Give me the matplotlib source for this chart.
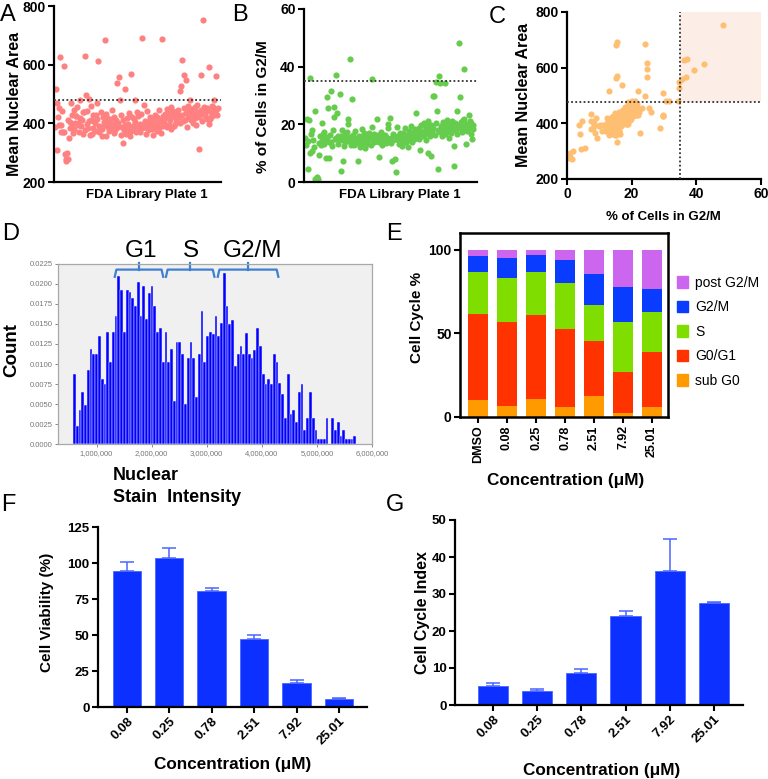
import numpy as np
import matplotlib
matplotlib.use("Agg")
import matplotlib.pyplot as plt
from matplotlib.patches import Patch
from matplotlib.ticker import FuncFormatter, FormatStrFormatter

plt.rcParams['font.family'] = ['Liberation Sans', 'DejaVu Sans']

W, H = 768, 779

# ---- screen data: one value per compound, in plate order ----
nuclear_area = [
    388, 517, 471, 309, 421, 451, 395, 626, 395, 371, 442, 372, 371, 597, 295, 277, 272, 300, 280, 410,
    349, 383, 404, 468, 428, 399, 366, 447, 380, 400, 425, 426, 455, 395, 401, 372, 480, 417, 390, 412,
    440, 365, 437, 631, 378, 497, 399, 441, 385, 482, 407, 360, 459, 410, 362, 384, 430, 408, 374, 402,
    430, 471, 415, 614, 391, 369, 385, 437, 381, 357, 422, 406, 394, 683, 358, 432, 419, 386, 402, 375,
    414, 412, 383, 398, 445, 390, 367, 421, 378, 399, 410, 539, 388, 401, 558, 478, 360, 427, 386, 334,
    412, 376, 517, 394, 365, 418, 371, 398, 436, 385, 357, 569, 374, 421, 392, 380, 414, 403, 480, 369,
    440, 426, 387, 380, 399, 372, 433, 691, 385, 395, 464, 389, 408, 364, 395, 441, 377, 402, 385, 412,
    423, 398, 379, 405, 361, 416, 388, 430, 394, 374, 420, 401, 383, 447, 409, 368, 415, 686, 392, 426,
    404, 431, 418, 395, 389, 450, 422, 396, 437, 412, 455, 380, 425, 441, 430, 390, 398, 434, 416, 420,
    446, 430, 421, 509, 400, 528, 428, 615, 408, 453, 566, 410, 549, 436, 387, 460, 418, 441, 480, 425,
    412, 448, 433, 402, 427, 454, 419, 396, 438, 462, 424, 420, 311, 431, 447, 566, 409, 436, 752, 455,
    425, 429, 443, 414, 451, 445, 591, 398, 415, 440, 422, 458, 455, 427, 480, 435, 446, 562, 430, 452,
]
g2m_pct = [
    15.2, 13.0, 21.7, 4.4, 14.1, 21.5, 10.2, 36.2, 16.8, 10.8, 18.2, 14.6, 12.0, 24.7, 1.0, 0.7, 1.4, 1.8, 0.9, 13.4,
    9.4, 15.8, 12.9, 20.5, 14.3, 16.5, 13.1, 17.4, 14.9, 8.2, 29.6, 15.6, 25.5, 8.4, 13.7, 16.2, 31.7, 14.0, 12.4, 17.9,
    25.9, 22.7, 14.8, 37.0, 15.3, 24.0, 13.2, 16.0, 14.4, 30.5, 15.9, 3.9, 18.0, 7.4, 14.7, 12.6, 16.6, 13.8, 15.1, 17.2,
    22.0, 20.0, 14.2, 42.5, 15.5, 12.8, 28.9, 16.3, 14.6, 13.0, 15.0, 17.6, 13.5, 15.0, 14.9, 7.4, 16.1, 12.2, 15.7, 14.0,
    18.4, 13.6, 15.4, 14.1, 16.9, 11.8, 15.2, 14.5, 13.3, 16.4, 14.8, 17.0, 15.9, 12.7, 35.7, 19.0, 14.3, 16.7, 13.9, 15.5,
    15.1, 14.2, 22.0, 16.3, 8.8, 13.7, 15.8, 14.6, 17.3, 12.9, 15.0, 15.5, 14.0, 16.2, 13.4, 15.7, 14.8, 18.6, 20.0, 14.1,
    22.2, 15.3, 13.6, 7.3, 16.6, 14.4, 15.9, 15.5, 7.9, 3.6, 19.0, 14.7, 16.0, 13.1, 15.4, 17.1, 14.3, 12.5, 15.8, 16.9,
    14.0, 18.8, 15.2, 13.8, 16.4, 15.0, 12.3, 17.7, 14.6, 16.1, 19.5, 15.6, 13.9, 17.4, 16.0, 14.9, 18.3, 24.0, 15.3, 16.8,
    17.5, 14.8, 18.9, 11.1, 16.7, 19.8, 15.9, 17.2, 20.6, 16.3, 18.1, 14.4, 19.3, 17.0, 21.2, 10.0, 18.5, 16.1, 19.9, 9.0,
    17.8, 29.8, 18.6, 29.8, 16.4, 34.7, 20.3, 24.7, 4.5, 18.0, 36.8, 17.3, 34.5, 19.4, 15.8, 20.8, 17.6, 18.9, 34.4, 16.7,
    19.6, 21.5, 17.4, 18.2, 15.2, 20.1, 18.7, 16.9, 21.0, 19.2, 17.9, 12.5, 5.5, 20.4, 18.3, 24.7, 16.5, 19.7, 48.1, 18.6,
    29.6, 20.9, 17.2, 19.1, 21.6, 22.0, 39.2, 18.4, 13.2, 20.2, 17.7, 19.5, 23.2, 18.8, 21.0, 16.8, 20.6, 15.0, 19.9, 18.3,
]
area_cutoff = 478
g2m_cutoff = 35

# ---- nuclear stain histogram (normalised counts per bin) ----
hist_first_center = 0.597e6
hist_bin_width = 0.0504e6
hist_counts = [
    0.0087, 0.0022, 0.0043, 0.0065, 0.0049, 0.0092, 0.0119, 0.0113, 0.0113, 0.0135,
    0.0081, 0.0075, 0.0140, 0.0102, 0.0140, 0.0160, 0.0210, 0.0193, 0.0140, 0.0193,
    0.0190, 0.0182, 0.0172, 0.0203, 0.0160, 0.0198, 0.0156, 0.0189, 0.0198, 0.0172,
    0.0140, 0.0145, 0.0102, 0.0140, 0.0103, 0.0119, 0.0054, 0.0128, 0.0128, 0.0113,
    0.0050, 0.0108, 0.0128, 0.0108, 0.0059, 0.0113, 0.0166, 0.0102, 0.0135, 0.0140,
    0.0138, 0.0160, 0.0135, 0.0151, 0.0214, 0.0172, 0.0150, 0.0155, 0.0097, 0.0113,
    0.0123, 0.0113, 0.0139, 0.0113, 0.0108, 0.0118, 0.0145, 0.0123, 0.0087, 0.0075,
    0.0081, 0.0075, 0.0113, 0.0102, 0.0076, 0.0062, 0.0032, 0.0087, 0.0038, 0.0043,
    0.0027, 0.0065, 0.0075, 0.0018, 0.0032, 0.0065, 0.0032, 0.0018, 0.0006, 0.0006,
    0.0006, 0.0032, 0.0000, 0.0032, 0.0018, 0.0027, 0.0010, 0.0018, 0.0006, 0.0006,
    0.0006, 0.0010,
]
phase_labels = ['G1', 'S', 'G2/M']
phase_ranges = [(1.33e6, 2.21e6), (2.26e6, 3.14e6), (3.20e6, 4.30e6)]

# ---- cell cycle distribution (%) ----
cc_conc = ['DMSO', '0.08', '0.25', '0.78', '2.51', '7.92', '25.01']
sub_g0 = [10.0, 6.4, 10.8, 6.0, 12.6, 2.6, 5.8]
g0_g1 = [51.8, 50.2, 50.2, 46.6, 33.0, 24.6, 33.2]
s_phase = [24.8, 26.2, 25.6, 27.4, 21.2, 29.6, 24.0]
g2_m = [9.6, 12.4, 10.2, 14.0, 18.6, 21.0, 13.8]
post_g2m = [3.8, 4.8, 3.2, 6.0, 14.6, 22.2, 23.2]

# ---- dose response ----
conc = ['0.08', '0.25', '0.78', '2.51', '7.92', '25.01']
viability = [94.4, 103.2, 80.6, 47.5, 16.7, 5.3]
viability_err = [6.3, 7.0, 2.0, 2.5, 2.3, 0.7]
cc_index = [5.1, 3.9, 8.6, 24.1, 36.3, 27.7]
cc_index_err = [0.9, 0.3, 1.0, 1.4, 8.7, 0.2]

fig = plt.figure(figsize=(W / 100, H / 100), dpi=100)


def px_axes(l, t, r, b):
    return fig.add_axes([l / W, 1 - b / H, (r - l) / W, (b - t) / H])


def ftext(x, y, s, **kw):
    kw.setdefault('ha', 'center')
    kw.setdefault('va', 'center')
    fig.text(x / W, 1 - y / H, s, **kw)


def prism_style(ax, fs=10):
    for side in ['top', 'right']:
        ax.spines[side].set_visible(False)
    for side in ['left', 'bottom']:
        ax.spines[side].set_linewidth(1.6)
    ax.tick_params(width=1.5, length=4, labelsize=fs, pad=2)
    for lab in ax.get_yticklabels() + ax.get_xticklabels():
        lab.set_fontweight('bold')


dot = dict(color='#333333', ls=(0, (1, 1.3)), lw=1.3)
idx = np.arange(len(nuclear_area))

# A
axA = px_axes(54, 6, 221, 182)
axA.scatter(idx, nuclear_area, s=20, color='#FF8080', linewidths=0, zorder=2)
axA.axhline(area_cutoff, **dot, zorder=3)
axA.set_xlim(-2, 244)
axA.set_ylim(200, 800)
axA.set_yticks([200, 400, 600, 800])
axA.set_xticks([])
prism_style(axA)
ftext(15, 104, 'Mean Nuclear Area', rotation=90, fontsize=11.5, fontweight='bold')
ftext(147, 195, 'FDA Library Plate 1', fontsize=9.5, fontweight='bold')

# B
axB = px_axes(304, 9, 477, 182)
axB.scatter(idx, g2m_pct, s=20, color='#66CC4D', linewidths=0, zorder=2)
axB.axhline(g2m_cutoff, **dot, zorder=3)
axB.set_xlim(-2, 244)
axB.set_ylim(0, 60)
axB.set_yticks([0, 20, 40, 60])
axB.set_xticks([])
prism_style(axB)
ftext(263, 107, '% of Cells in G2/M', rotation=90, fontsize=11, fontweight='bold')
ftext(400, 195, 'FDA Library Plate 1', fontsize=9.5, fontweight='bold')

# C
axC = px_axes(567, 12, 761, 179)
axC.fill_between([g2m_cutoff, 60], area_cutoff, 800, color='#FCEEE6', lw=0, zorder=0)
axC.scatter(g2m_pct, nuclear_area, s=20, color='#FFBF73', linewidths=0, zorder=2)
axC.axhline(area_cutoff, **dot, zorder=3)
axC.axvline(g2m_cutoff, **dot, zorder=3)
axC.set_xlim(0, 60)
axC.set_ylim(200, 800)
axC.set_xticks([0, 20, 40, 60])
axC.set_yticks([200, 400, 600, 800])
prism_style(axC)
ftext(524, 95, 'Mean Nuclear Area', rotation=90, fontsize=11.5, fontweight='bold')
ftext(663, 217, '% of Cells in G2/M', fontsize=9.5, fontweight='bold')

# D
axD = px_axes(58, 264, 372, 444)
axD.set_facecolor('#F0F0F0')
centers = hist_first_center + hist_bin_width * np.arange(len(hist_counts))
axD.bar(centers, hist_counts, width=hist_bin_width, color='#0000FF',
        edgecolor='#E8E8FF', linewidth=0.35)
axD.set_xlim(0.3e6, 6.0e6)
axD.set_ylim(0, 0.0225)
axD.set_yticks(np.arange(0, 0.0226, 0.0025))
axD.yaxis.set_major_formatter(FormatStrFormatter('%.4f'))
axD.set_xticks([1e6, 2e6, 3e6, 4e6, 5e6, 6e6])
axD.xaxis.set_major_formatter(FuncFormatter(lambda v, p: f'{int(v):,}'))
for sp in axD.spines.values():
    sp.set_color('#A8A8A8')
    sp.set_linewidth(0.9)
axD.tick_params(colors='#777777', labelsize=5.5, length=2, width=0.6, pad=2)
bc = '#3F7FD0'
for (x0, x1) in phase_ranges:
    xm = (x0 + x1) / 2
    axD.plot([x0, x0 + 0.03e6, x1 - 0.03e6, x1], [0.0209, 0.0218, 0.0218, 0.0209],
             color=bc, lw=1.6, clip_on=False, solid_joinstyle='round')
    axD.plot([xm, xm], [0.0218, 0.0226], color=bc, lw=1.6, clip_on=False)
for lab, x in zip(phase_labels, [141, 191, 252]):
    ftext(x, 251, lab, fontsize=17.5)
ftext(12, 350, 'Count', rotation=90, fontsize=13.5, fontweight='bold')
ftext(113, 475, 'Nuclear', ha='left', fontsize=13, fontweight='bold')
ftext(113, 497, 'Stain  Intensity', ha='left', fontsize=13, fontweight='bold')

# E
axE = px_axes(460, 233, 668, 417)
phase_cols = ['#FF9A00', '#FF3300', '#80DD00', '#0A3CFF', '#CC66EE']
phase_names = ['sub G0', 'G0/G1', 'S', 'G2/M', 'post G2/M']
xe = np.arange(len(cc_conc))
bottom = np.zeros(len(cc_conc))
for vals, col in zip([sub_g0, g0_g1, s_phase, g2_m, post_g2m], phase_cols):
    axE.bar(xe, vals, bottom=bottom, width=0.66, color=col, lw=0)
    bottom += np.array(vals)
axE.set_xlim(-0.62, 6.55)
axE.set_ylim(0, 110)
axE.set_yticks([0, 50, 100])
axE.set_xticks(xe)
axE.set_xticklabels(cc_conc, rotation=90, fontsize=9, fontweight='bold')
for sp in axE.spines.values():
    sp.set_linewidth(1.8)
axE.tick_params(width=1.5, length=4, pad=2)
axE.tick_params(axis='y', labelsize=10)
for lab in axE.get_yticklabels():
    lab.set_fontweight('bold')
handles = [Patch(color=c, label=n) for c, n in zip(phase_cols, phase_names)][::-1]
axE.legend(handles=handles, loc='upper left', bbox_to_anchor=(677 / W, 1 - 276 / H),
           bbox_transform=fig.transFigure, frameon=False, fontsize=10,
           handlelength=0.8, handleheight=0.9, handletextpad=0.5, labelspacing=0.75,
           borderaxespad=0, borderpad=0)
ftext(417, 317, 'Cell Cycle %', rotation=90, fontsize=11, fontweight='bold')
ftext(566, 481, 'Concentration (\u03bcM)', fontsize=12.3, fontweight='bold')

# F
bar_col = '#0B30FF'
err_col = '#4A66FF'
axF = px_axes(98, 527, 367, 707)
xf = np.arange(len(conc))
axF.bar(xf, viability, width=0.67, color=bar_col, edgecolor='#4A66FF', lw=0.6)
axF.errorbar(xf, viability, yerr=[np.zeros(len(conc)), viability_err], fmt='none',
             ecolor=err_col, elinewidth=1.1, capsize=5, capthick=1.1)
axF.set_xlim(-0.68, 5.66)
axF.set_ylim(0, 125)
axF.set_yticks([0, 25, 50, 75, 100, 125])
axF.set_xticks(xf)
axF.set_xticklabels(conc, rotation=45, ha='right', rotation_mode='anchor')
prism_style(axF, fs=9.5)
ftext(47, 612, 'Cell Viability (%)', rotation=90, fontsize=11, fontweight='bold')
ftext(233, 765, 'Concentration (\u03bcM)', fontsize=12.3, fontweight='bold')

# G
axG = px_axes(455, 520, 743, 705)
axG.bar(xf, cc_index, width=0.68, color=bar_col, edgecolor='#4A66FF', lw=0.6)
axG.errorbar(xf, cc_index, yerr=[np.zeros(len(conc)), cc_index_err], fmt='none',
             ecolor=err_col, elinewidth=1.1, capsize=5, capthick=1.1)
axG.set_xlim(-0.86, 5.66)
axG.set_ylim(0, 50)
axG.set_yticks([0, 10, 20, 30, 40, 50])
axG.set_xticks(xf)
axG.set_xticklabels(conc, rotation=45, ha='right', rotation_mode='anchor')
prism_style(axG, fs=9.5)
ftext(422, 613, 'Cell Cycle Index', rotation=90, fontsize=11.5, fontweight='bold')
ftext(602, 770, 'Concentration (\u03bcM)', fontsize=12.3, fontweight='bold')

# panel letters
for lab, x, y in [('A', 0, 4), ('B', 232, 4), ('C', 489, 6), ('D', 2, 223),
                  ('E', 386, 223), ('F', 1, 494), ('G', 386, 494)]:
    ftext(x, y, lab, ha='left', va='top', fontsize=17)

fig.savefig('out.png', dpi=100)
